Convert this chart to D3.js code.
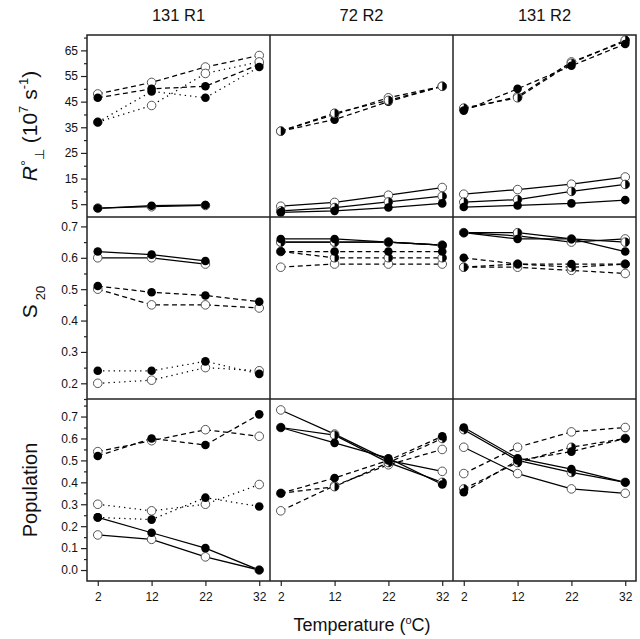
<!DOCTYPE html>
<html><head><meta charset="utf-8">
<script src="https://cdn.jsdelivr.net/npm/d3@7"></script>
<style>body{margin:0;background:#fff}svg{font-family:"Liberation Sans",Arial,sans-serif}</style>
</head><body><svg id="c" width="640" height="639"></svg>
<script>
// ---------- DATA ----------
const temps = [2, 12, 22, 32];
const columns = ["131 R1", "72 R2", "131 R2"];
const xTicks = [2, 12, 22, 32];
const rTicks = [5, 15, 25, 35, 45, 55, 65];
const sTicks = [0.2, 0.3, 0.4, 0.5, 0.6, 0.7];
const pTicks = [0.0, 0.1, 0.2, 0.3, 0.4, 0.5, 0.6, 0.7];

// Row 1: R°⊥ (10^7 s^-1)
const r131R1_dashOpen   = [48, 52.5, 58.5, 63];
const r131R1_dashFilled = [46.5, 50, 51, 59.5];
const r131R1_dotOpen    = [37, 43.5, 56, 60.5];
const r131R1_dotFilled  = [37, 49, 46.5, 58.5];
const r131R1_solidOpen  = [3.5, 4.0, 4.5, null];
const r131R1_solidFilled= [3.4, 4.4, 4.7, null];

const r72R2_dashOpen    = [33.5, 40, 46.5, 51];
const r72R2_dashHalf    = [33.5, 40.5, 45.5, 51];
const r72R2_dashFilled  = [33.5, 38, 45, 51];
const r72R2_solidOpen   = [4.2, 5.7, 8.5, 11.5];
const r72R2_solidHalf   = [2.4, 3.7, 5.9, 8.1];
const r72R2_solidFilled = [1.8, 2.4, 3.7, 5.3];

const r131R2_dashOpen   = [42, 47, 60.5, 68.5];
const r131R2_dashHalf   = [42.5, 46.5, 60, 69];
const r131R2_dashFilled = [41.5, 50, 59, 67.5];
const r131R2_solidOpen  = [8.9, 10.7, 12.8, 15.6];
const r131R2_solidHalf  = [5.8, 6.8, 10, 12.7];
const r131R2_solidFilled= [3.9, 4.5, 5.3, 6.6];

// Row 2: S20
const s131R1_solidOpen  = [0.60, 0.60, 0.58, null];
const s131R1_solidFilled= [0.62, 0.61, 0.59, null];
const s131R1_dashOpen   = [0.50, 0.45, 0.45, 0.44];
const s131R1_dashFilled = [0.51, 0.49, 0.48, 0.46];
const s131R1_dotOpen    = [0.20, 0.21, 0.25, 0.24];
const s131R1_dotFilled  = [0.24, 0.24, 0.27, 0.23];

const s72R2_solidOpen   = [0.65, 0.65, 0.65, 0.64];
const s72R2_solidHalf   = [0.65, 0.65, 0.65, 0.64];
const s72R2_solidFilled = [0.66, 0.66, 0.65, 0.64];
const s72R2_dashOpen    = [0.57, 0.58, 0.58, 0.58];
const s72R2_dashHalf    = [0.62, 0.60, 0.60, 0.60];
const s72R2_dashFilled  = [0.62, 0.62, 0.62, 0.62];

const s131R2_solidOpen  = [0.68, 0.67, 0.65, 0.66];
const s131R2_solidHalf  = [0.68, 0.68, 0.66, 0.65];
const s131R2_solidFilled= [0.68, 0.66, 0.66, 0.62];
const s131R2_dashOpen   = [0.57, 0.57, 0.56, 0.55];
const s131R2_dashHalf   = [0.57, 0.58, 0.57, 0.58];
const s131R2_dashFilled = [0.60, 0.58, 0.58, 0.58];

// Row 3: Population
const p131R1_dashOpen   = [0.54, 0.59, 0.64, 0.61];
const p131R1_dashFilled = [0.52, 0.60, 0.57, 0.71];
const p131R1_dotOpen    = [0.30, 0.27, 0.30, 0.39];
const p131R1_dotFilled  = [0.24, 0.23, 0.33, 0.29];
const p131R1_solidOpen  = [0.16, 0.14, 0.06, 0.0];
const p131R1_solidFilled= [0.24, 0.17, 0.10, 0.0];

const p72R2_solidOpen   = [0.73, 0.62, 0.50, 0.45];
const p72R2_solidHalf   = [0.65, 0.615, 0.49, 0.40];
const p72R2_solidFilled = [0.65, 0.58, 0.51, 0.39];
const p72R2_dashOpen    = [0.27, 0.385, 0.48, 0.55];
const p72R2_dashHalf    = [0.35, 0.38, 0.49, 0.60];
const p72R2_dashFilled  = [0.35, 0.42, 0.50, 0.61];

const p131R2_solidOpen  = [0.56, 0.44, 0.37, 0.35];
const p131R2_solidHalf  = [0.64, 0.50, 0.445, 0.40];
const p131R2_solidFilled= [0.65, 0.51, 0.46, 0.40];
const p131R2_dashOpen   = [0.44, 0.56, 0.63, 0.65];
const p131R2_dashHalf   = [0.37, 0.49, 0.56, 0.60];
const p131R2_dashFilled = [0.355, 0.50, 0.54, 0.60];

// ---------- TABLE ----------
const S = (values, marker, dash) => ({values, marker, dash});
const panels = [
  [
    [S(r131R1_dashOpen,"open","dash"),S(r131R1_dashFilled,"filled","dash"),S(r131R1_dotOpen,"open","dot"),S(r131R1_dotFilled,"filled","dot"),S(r131R1_solidOpen,"open","solid"),S(r131R1_solidFilled,"filled","solid")],
    [S(r72R2_dashOpen,"open","dash"),S(r72R2_dashFilled,"filled","dash"),S(r72R2_dashHalf,"half","dash"),S(r72R2_solidOpen,"open","solid"),S(r72R2_solidHalf,"half","solid"),S(r72R2_solidFilled,"filled","solid")],
    [S(r131R2_dashOpen,"open","dash"),S(r131R2_dashHalf,"half","dash"),S(r131R2_dashFilled,"filled","dash"),S(r131R2_solidOpen,"open","solid"),S(r131R2_solidHalf,"half","solid"),S(r131R2_solidFilled,"filled","solid")]
  ],
  [
    [S(s131R1_solidOpen,"open","solid"),S(s131R1_solidFilled,"filled","solid"),S(s131R1_dashOpen,"open","dash"),S(s131R1_dashFilled,"filled","dash"),S(s131R1_dotOpen,"open","dot"),S(s131R1_dotFilled,"filled","dot")],
    [S(s72R2_solidOpen,"open","solid"),S(s72R2_solidHalf,"half","solid"),S(s72R2_solidFilled,"filled","solid"),S(s72R2_dashOpen,"open","dash"),S(s72R2_dashHalf,"half","dash"),S(s72R2_dashFilled,"filled","dash")],
    [S(s131R2_solidOpen,"open","solid"),S(s131R2_solidHalf,"half","solid"),S(s131R2_solidFilled,"filled","solid"),S(s131R2_dashOpen,"open","dash"),S(s131R2_dashHalf,"half","dash"),S(s131R2_dashFilled,"filled","dash")]
  ],
  [
    [S(p131R1_dashOpen,"open","dash"),S(p131R1_dashFilled,"filled","dash"),S(p131R1_dotOpen,"open","dot"),S(p131R1_dotFilled,"filled","dot"),S(p131R1_solidOpen,"open","solid"),S(p131R1_solidFilled,"filled","solid")],
    [S(p72R2_solidOpen,"open","solid"),S(p72R2_solidHalf,"half","solid"),S(p72R2_solidFilled,"filled","solid"),S(p72R2_dashOpen,"open","dash"),S(p72R2_dashHalf,"half","dash"),S(p72R2_dashFilled,"filled","dash")],
    [S(p131R2_solidOpen,"open","solid"),S(p131R2_solidHalf,"half","solid"),S(p131R2_solidFilled,"filled","solid"),S(p131R2_dashOpen,"open","dash"),S(p131R2_dashHalf,"half","dash"),S(p131R2_dashFilled,"filled","dash")]
  ]
];

// ---------- LAYOUT ----------
const svg = d3.select("#c");
const colX = [87, 270, 453], pw = 183;
const rowY = [35, 217, 399], ph = 182;
const yDomains = [[0, 71], [0.15, 0.73], [-0.05, 0.78]];
const majorTicks = [rTicks, sTicks, pTicks];
const minorTicks = [
  d3.range(10, 71, 10),
  d3.range(0.15, 0.73, 0.1).map(v => +v.toFixed(2)),
  d3.range(0.05, 0.78, 0.1).map(v => +v.toFixed(2))
];
const tickFmt = [d3.format("d"), d3.format(".1f"), d3.format(".1f")];
const dashes = {solid: null, dash: "5,3.5", dot: "1.3,4"};
const R = 4.3;

const xScales = colX.map(x0 => d3.scaleLinear().domain([0, 34]).range([x0, x0 + pw]));
const yScales = rowY.map((y0, i) => d3.scaleLinear().domain(yDomains[i]).range([y0 + ph, y0]));

panels.forEach((row, ri) => row.forEach((series, ci) => {
  const xs = xScales[ci], ys = yScales[ri];
  const g = svg.append("g");
  const line = d3.line().defined(d => d != null).x((d, i) => xs(temps[i])).y(d => ys(d));
  series.forEach(s => {
    g.append("path").attr("d", line(s.values)).attr("fill", "none")
      .attr("stroke", "#000").attr("stroke-width", 1.25)
      .attr("stroke-dasharray", dashes[s.dash]);
  });
  series.forEach(s => {
    s.values.forEach((v, i) => {
      if (v == null) return;
      const cx = xs(temps[i]), cy = ys(v);
      if (s.marker === "filled") {
        g.append("circle").attr("cx", cx).attr("cy", cy).attr("r", R).attr("fill", "#000");
      } else {
        g.append("circle").attr("cx", cx).attr("cy", cy).attr("r", R)
          .attr("fill", "#fff").attr("stroke", "#555").attr("stroke-width", 1);
        if (s.marker === "half") {
          g.append("path").attr("d", `M${cx},${cy - R}A${R},${R} 0 0 1 ${cx},${cy + R}Z`).attr("fill", "#000");
        }
      }
    });
  });
}));

const frame = svg.append("g").attr("fill", "none").attr("stroke", "#222").attr("stroke-width", 1.5);
frame.append("rect").attr("x", colX[0]).attr("y", rowY[0]).attr("width", pw * 3).attr("height", ph * 3);
colX.slice(1).forEach(x => frame.append("line").attr("x1", x).attr("x2", x).attr("y1", rowY[0]).attr("y2", rowY[0] + 3 * ph));
rowY.slice(1).forEach(y => frame.append("line").attr("x1", colX[0]).attr("x2", colX[0] + 3 * pw).attr("y1", y).attr("y2", y));

yScales.forEach((ys, ri) => {
  const g = svg.append("g").attr("transform", `translate(${colX[0]},0)`);
  g.call(d3.axisLeft(ys).tickValues(majorTicks[ri]).tickFormat(tickFmt[ri]).tickSize(6).tickPadding(3));
  g.selectAll("path.domain").remove();
  g.selectAll("text").attr("font-size", 12).attr("fill", "#111").attr("font-family", "Liberation Sans, Arial, sans-serif");
  g.selectAll("line").attr("stroke", "#222").attr("stroke-width", 1.2);
  const gm = svg.append("g").attr("transform", `translate(${colX[0]},0)`);
  gm.call(d3.axisLeft(ys).tickValues(minorTicks[ri]).tickFormat("").tickSize(3));
  gm.selectAll("path.domain").remove();
  gm.selectAll("line").attr("stroke", "#222").attr("stroke-width", 1.2);
});

xScales.forEach(xs => {
  const g = svg.append("g").attr("transform", `translate(0,${rowY[2] + ph})`);
  g.call(d3.axisBottom(xs).tickValues(xTicks).tickFormat(d3.format("d")).tickSize(5).tickPadding(6));
  g.selectAll("path.domain").remove();
  g.selectAll("text").attr("font-size", 12).attr("fill", "#111").attr("font-family", "Liberation Sans, Arial, sans-serif");
  g.selectAll("line").attr("stroke", "#222").attr("stroke-width", 1.2);
});

columns.forEach((c, i) => {
  svg.append("text").attr("x", colX[i] + pw / 2).attr("y", 21).attr("text-anchor", "middle")
    .attr("font-size", 16.5).attr("fill", "#111").text(c);
});

const xl = svg.append("text").attr("x", 362).attr("y", 631).attr("text-anchor", "middle").attr("font-size", 18).attr("fill", "#111");
xl.append("tspan").text("Temperature (");
xl.append("tspan").attr("font-size", 11).attr("dy", -7).text("o");
xl.append("tspan").attr("dy", 7).text("C)");

const yl1 = svg.append("text").attr("transform", "translate(37,126) rotate(-90)").attr("text-anchor", "middle").attr("font-size", 21).attr("fill", "#111");
yl1.append("tspan").attr("font-style", "italic").text("R");
yl1.append("tspan").attr("font-size", 15).attr("dy", -6).text("°");
yl1.append("tspan").attr("font-size", 13).attr("dy", 13).text("⊥");
yl1.append("tspan").attr("dy", -7).text(" (10");
yl1.append("tspan").attr("font-size", 13).attr("dy", -9).text("7");
yl1.append("tspan").attr("dy", 9).text(" s");
yl1.append("tspan").attr("font-size", 13).attr("dy", -9).text("-1");
yl1.append("tspan").attr("dy", 9).text(")");

const yl2 = svg.append("text").attr("transform", "translate(37,302) rotate(-90)").attr("text-anchor", "middle").attr("font-size", 21).attr("fill", "#111");
yl2.append("tspan").text("S");
yl2.append("tspan").attr("font-size", 13).attr("dy", 8).attr("dx", 4).text("20");

svg.append("text").attr("transform", "translate(37,490) rotate(-90)").attr("text-anchor", "middle")
  .attr("font-size", 20).attr("fill", "#111").text("Population");
</script></body></html>
